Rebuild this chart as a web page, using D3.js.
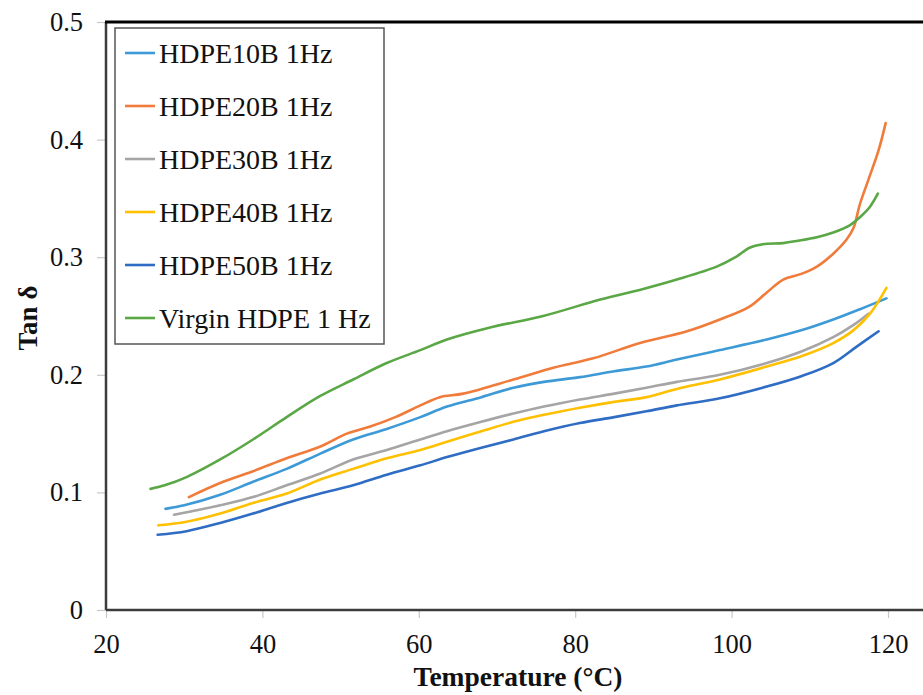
<!DOCTYPE html>
<html>
<head>
<meta charset="utf-8">
<script src="https://cdn.jsdelivr.net/npm/d3@7"></script>
<style>
  body { margin: 0; background: #fff; }
  svg text { font-family: "Liberation Serif", "Times New Roman", serif; }
</style>
</head>
<body>
<div id="chart"></div>
<script>
// series names and colours (Excel default palette)
const seriesNames = ["HDPE10B 1Hz", "HDPE20B 1Hz", "HDPE30B 1Hz", "HDPE40B 1Hz", "HDPE50B 1Hz", "Virgin HDPE 1 Hz"];
const seriesColors = ["#3d9ad6", "#f07b3a", "#a5a5a5", "#ffc000", "#2f6cc4", "#5aa745"];

const xTicks = [20, 40, 60, 80, 100, 120];
const yTicks = [0, 0.1, 0.2, 0.3, 0.4, 0.5];

// [temperature °C, tan delta]
const hdpe10b = [[27.6,0.086],[30,0.089],[34.6,0.098],[38.8,0.109],[43.1,0.120],[47.4,0.133],[51.6,0.145],[55.9,0.154],[60.2,0.164],[63.6,0.173],[68,0.181],[72.1,0.189],[76,0.194],[80.6,0.198],[85,0.203],[89.1,0.207],[93,0.213],[98.5,0.221],[104.5,0.230],[109,0.238],[113,0.247],[116.5,0.256],[119.8,0.265]];
const hdpe20b = [[30.6,0.096],[34.6,0.108],[38.8,0.118],[43.1,0.129],[47.4,0.139],[50.8,0.150],[53.8,0.156],[57,0.164],[60.2,0.174],[62.7,0.181],[65.7,0.184],[72.1,0.196],[77.2,0.206],[82.3,0.214],[88.3,0.227],[94.3,0.237],[98.5,0.247],[102.3,0.258],[104.5,0.270],[106.6,0.281],[109,0.286],[110.9,0.292],[113,0.303],[114.7,0.315],[115.6,0.325],[116.4,0.345],[117.5,0.366],[118.8,0.391],[119.7,0.414]];
const hdpe30b = [[28.7,0.081],[31,0.084],[34.6,0.089],[38.8,0.096],[43.1,0.106],[47.4,0.116],[51.6,0.128],[55.9,0.136],[60.2,0.145],[63.6,0.152],[68,0.160],[72.1,0.167],[76,0.173],[80.6,0.179],[85,0.184],[89.1,0.189],[93,0.194],[98.5,0.200],[104.5,0.210],[109,0.220],[113,0.232],[115.5,0.242],[117.5,0.252]];
const hdpe40b = [[26.7,0.072],[30.3,0.075],[34.6,0.082],[38.8,0.091],[43.1,0.099],[47.4,0.111],[51.6,0.120],[55.9,0.129],[60.2,0.136],[63.6,0.143],[68,0.152],[72.1,0.160],[76,0.166],[80.6,0.172],[85,0.177],[89.1,0.181],[93,0.188],[98.5,0.196],[104.5,0.207],[109,0.216],[113,0.227],[115.6,0.238],[117.7,0.252],[119.8,0.274]];
const hdpe50b = [[26.6,0.064],[30.3,0.067],[34.6,0.074],[38.8,0.082],[43.1,0.091],[47.4,0.099],[51.6,0.106],[55.9,0.115],[60.2,0.123],[63.6,0.130],[68,0.138],[72.1,0.145],[76,0.152],[80.6,0.159],[85,0.164],[89.1,0.169],[93,0.174],[98.5,0.180],[104.5,0.190],[109,0.199],[113,0.210],[116,0.224],[118.8,0.237]];
const virgin = [[25.7,0.103],[27.5,0.106],[30.3,0.113],[34.6,0.128],[38.8,0.145],[43.1,0.164],[47.4,0.182],[51.6,0.196],[55.9,0.210],[60.2,0.221],[63.6,0.230],[69,0.240],[75.9,0.250],[83.2,0.264],[88.7,0.273],[93,0.281],[98.1,0.292],[100.5,0.300],[102.3,0.308],[104,0.311],[106.6,0.312],[108.5,0.314],[110.9,0.317],[113,0.321],[115.1,0.327],[116.4,0.334],[117.6,0.342],[118.7,0.354]];

const allSeries = [hdpe10b, hdpe20b, hdpe30b, hdpe40b, hdpe50b, virgin];

const width = 923, height = 695;
const plot = { left: 106, top: 22, bottom: 610, right: 888 };
const serif = '"Liberation Serif", "Times New Roman", serif';

const svg = d3.select("#chart")
    .append("svg")
    .attr("width", width)
    .attr("height", height);

const x = d3.scaleLinear().domain([20, 120]).range([plot.left, plot.right]);
const y = d3.scaleLinear().domain([0, 0.5]).range([plot.bottom, plot.top]);

// axes (ticks only, frame drawn separately)
const xAxis = svg.append("g")
    .attr("transform", `translate(0,${plot.bottom})`)
    .call(d3.axisBottom(x).tickValues(xTicks).tickSize(8).tickPadding(16));
const yAxis = svg.append("g")
    .attr("transform", `translate(${plot.left},0)`)
    .call(d3.axisLeft(y).tickValues(yTicks).tickSize(9).tickPadding(14)
        .tickFormat(d => d === 0 ? "0" : d3.format(".1f")(d)));

[xAxis, yAxis].forEach(ax => {
    ax.attr("font-family", serif).attr("font-size", 26.5);
    ax.select(".domain").remove();
    ax.selectAll(".tick line").attr("stroke", "#c8c8c8").attr("stroke-width", 1.2);
    ax.selectAll(".tick text").attr("fill", "#111");
});

// plot frame: left + bottom grey, top heavy black
svg.append("line")
    .attr("x1", plot.left).attr("x2", plot.left)
    .attr("y1", plot.top).attr("y2", plot.bottom)
    .attr("stroke", "#3c3c3c").attr("stroke-width", 2.5);
svg.append("line")
    .attr("x1", plot.left).attr("x2", width)
    .attr("y1", plot.bottom).attr("y2", plot.bottom)
    .attr("stroke", "#3c3c3c").attr("stroke-width", 2.5);
svg.append("line")
    .attr("x1", plot.left - 1).attr("x2", width)
    .attr("y1", plot.top).attr("y2", plot.top)
    .attr("stroke", "#000").attr("stroke-width", 3);

// curves
const line = d3.line()
    .x(d => x(d[0]))
    .y(d => y(d[1]))
    .curve(d3.curveCatmullRom.alpha(0.5));

svg.append("g")
    .selectAll("path")
    .data(allSeries)
    .join("path")
    .attr("fill", "none")
    .attr("stroke", (d, i) => seriesColors[i])
    .attr("stroke-width", 2.6)
    .attr("stroke-linejoin", "round")
    .attr("stroke-linecap", "round")
    .attr("d", line);

// legend
const legend = svg.append("g");
legend.append("rect")
    .attr("x", 115).attr("y", 28)
    .attr("width", 269).attr("height", 316)
    .attr("fill", "#fff")
    .attr("stroke", "#555").attr("stroke-width", 1.5);

const items = legend.selectAll("g.item")
    .data(seriesNames)
    .join("g")
    .attr("class", "item")
    .attr("transform", (d, i) => `translate(125,${53 + i * 53})`);
items.append("line")
    .attr("x1", 0).attr("x2", 30)
    .attr("stroke", (d, i) => seriesColors[i])
    .attr("stroke-width", 2.6);
items.append("text")
    .attr("x", 34)
    .attr("dy", "0.35em")
    .style("font-size", "28px")
    .attr("fill", "#111")
    .text(d => d);

// axis titles
svg.append("text")
    .attr("x", 518).attr("y", 686)
    .attr("text-anchor", "middle")
    .style("font-size", "27.5px")
    .style("font-weight", "bold")
    .attr("fill", "#111")
    .text("Temperature  (°C)");

svg.append("text")
    .attr("transform", "translate(37,318) rotate(-90)")
    .attr("text-anchor", "middle")
    .style("font-size", "27px")
    .style("font-weight", "bold")
    .attr("fill", "#111")
    .text("Tan δ");
</script>
</body>
</html>
